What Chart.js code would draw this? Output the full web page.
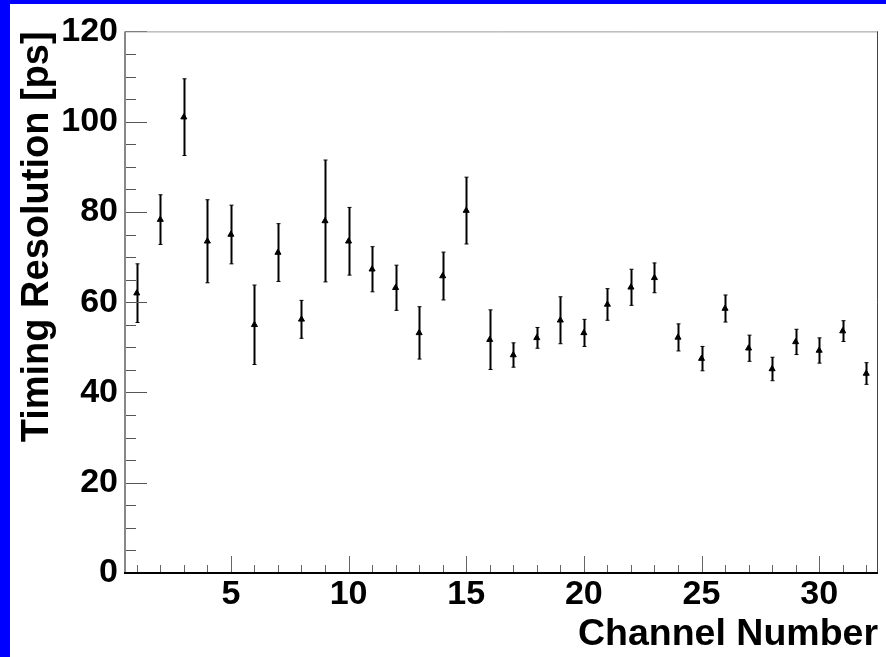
<!DOCTYPE html>
<html>
<head>
<meta charset="utf-8">
<script src="https://cdn.jsdelivr.net/npm/chart.js@4.4.1/dist/chart.umd.min.js"></script>
<style>
  html, body { margin: 0; padding: 0; background: #fff; }
  #wrap { width: 876px; height: 653px; border-left: 10px solid #0000ff; border-top: 4px solid #0000ff; background: #fff; }
  canvas { display: block; }
</style>
</head>
<body>
<div id="wrap"><canvas id="timing-chart" width="876" height="653"></canvas></div>
<script>
var channels = [1, 2, 3, 4, 5, 6, 7, 8, 9, 10, 11, 12, 13, 14, 15, 16,
  17, 18, 19, 20, 21, 22, 23, 24, 25, 26, 27, 28, 29, 30, 31, 32];
var resolution = [62, 78.3, 101, 73.5, 75, 55, 71, 56.2, 78, 73.5, 67.3, 63.2, 53.2, 65.8, 80.3, 51.7,
  48.3, 52.1, 56, 53.2, 59.5, 63.3, 65.4, 52.2, 47.5, 58.6, 49.8, 45.2, 51.2, 49.3, 53.6, 44.2];
var resolutionErr = [6.5, 5.5, 8.5, 9.2, 6.5, 8.8, 6.4, 4.2, 13.5, 7.5, 5, 5, 5.8, 5.3, 7.4, 6.6,
  2.7, 2.3, 5.2, 3, 3.5, 4, 3.3, 3, 2.7, 3, 2.9, 2.6, 2.8, 2.8, 2.3, 2.4];
var xTickLabels = [5, 10, 15, 20, 25, 30];
var yTickLabels = [0, 20, 40, 60, 80, 100, 120];

var fontFamily = '"Liberation Sans", Arial, Helvetica, sans-serif';

var points = channels.map(function (c, i) {
  return { x: c, y: resolution[i] };
});

// error bars under the markers
var errorBars = {
  id: 'errorBars',
  beforeDatasetsDraw: function (chart) {
    var ctx = chart.ctx;
    var xs = chart.scales.x, ys = chart.scales.y;
    ctx.save();
    ctx.strokeStyle = '#000';
    for (var i = 0; i < channels.length; i++) {
      var px = Math.round(xs.getPixelForValue(channels[i])) + 0.5;
      var top = ys.getPixelForValue(resolution[i] + resolutionErr[i]);
      var bot = ys.getPixelForValue(resolution[i] - resolutionErr[i]);
      ctx.lineWidth = 2;
      ctx.beginPath();
      ctx.moveTo(px, top);
      ctx.lineTo(px, bot);
      ctx.stroke();
      ctx.lineWidth = 1;
      ctx.beginPath();
      ctx.moveTo(px - 2, top);
      ctx.lineTo(px + 2, top);
      ctx.moveTo(px - 2, bot);
      ctx.lineTo(px + 2, bot);
      ctx.stroke();
    }
    ctx.restore();
  }
};

// frame and inward tick marks
var frameTicks = {
  id: 'frameTicks',
  afterDraw: function (chart) {
    var ctx = chart.ctx;
    var a = chart.chartArea;
    var xs = chart.scales.x, ys = chart.scales.y;
    ctx.save();
    ctx.lineWidth = 1;
    ctx.strokeStyle = '#555';
    ys.ticks.forEach(function (t) {
      var py = Math.round(ys.getPixelForValue(t.value)) + 0.5;
      var len = yTickLabels.indexOf(t.value) >= 0 ? 22 : 11;
      ctx.beginPath();
      ctx.moveTo(a.left, py);
      ctx.lineTo(a.left + len, py);
      ctx.stroke();
    });
    ctx.strokeStyle = '#666';
    xs.ticks.forEach(function (t) {
      var px = Math.round(xs.getPixelForValue(t.value)) + 0.5;
      var len = xTickLabels.indexOf(t.value) >= 0 ? 17 : 8;
      ctx.beginPath();
      ctx.moveTo(px, a.bottom);
      ctx.lineTo(px, a.bottom - len);
      ctx.stroke();
    });
    // top and right
    ctx.strokeStyle = '#999';
    ctx.beginPath();
    ctx.moveTo(a.left, a.top + 0.5);
    ctx.lineTo(a.right, a.top + 0.5);
    ctx.stroke();
    ctx.strokeStyle = '#444';
    ctx.beginPath();
    ctx.moveTo(a.right - 0.5, a.top);
    ctx.lineTo(a.right - 0.5, a.bottom);
    ctx.stroke();
    // left axis
    ctx.strokeStyle = '#888';
    ctx.lineWidth = 2;
    ctx.beginPath();
    ctx.moveTo(a.left, a.top);
    ctx.lineTo(a.left, a.bottom);
    ctx.stroke();
    // bottom axis
    ctx.strokeStyle = '#000';
    ctx.beginPath();
    ctx.moveTo(a.left - 1, a.bottom);
    ctx.lineTo(a.right, a.bottom);
    ctx.stroke();
    ctx.restore();
  }
};

var chart = new Chart(document.getElementById('timing-chart').getContext('2d'), {
  type: 'scatter',
  data: {
    datasets: [{
      label: 'Timing Resolution',
      data: points,
      pointStyle: 'triangle',
      pointRadius: 3.5,
      pointHoverRadius: 3.5,
      backgroundColor: '#000',
      borderColor: '#000',
      borderWidth: 1
    }]
  },
  plugins: [errorBars, frameTicks],
  options: {
    responsive: false,
    animation: false,
    layout: {
      padding: { top: 18, right: 8, left: 0, bottom: 0 }
    },
    plugins: {
      legend: { display: false },
      tooltip: { enabled: false }
    },
    scales: {
      x: {
        type: 'linear',
        position: 'bottom',
        min: 0.5,
        max: 32.5,
        afterBuildTicks: function (scale) {
          scale.ticks = channels.map(function (c) { return { value: c }; });
        },
        afterFit: function (scale) { scale.height = 84; },
        grid: { drawOnChartArea: false, drawTicks: false },
        border: { display: false },
        ticks: {
          autoSkip: false,
          maxRotation: 0,
          padding: 1,
          color: '#000',
          font: { family: fontFamily, size: 34, weight: 'bold' },
          callback: function (v) {
            return xTickLabels.indexOf(v) >= 0 ? String(v) : '';
          }
        },
        title: {
          display: true,
          text: 'Channel Number',
          align: 'end',
          color: '#000',
          font: { family: fontFamily, size: 37.5, weight: 'bold' },
          padding: { top: 0, bottom: 0 }
        }
      },
      y: {
        min: 0,
        max: 120,
        afterFit: function (scale) { scale.width = 115; },
        grid: { drawOnChartArea: false, drawTicks: false },
        border: { display: false },
        ticks: {
          stepSize: 5,
          autoSkip: false,
          padding: 7,
          color: '#000',
          font: { family: fontFamily, size: 34, weight: 'bold' },
          callback: function (v) {
            return yTickLabels.indexOf(v) >= 0 ? String(v) : '';
          }
        },
        title: {
          display: true,
          text: 'Timing Resolution [ps]',
          align: 'end',
          color: '#000',
          font: { family: fontFamily, size: 38, weight: 'bold' },
          padding: { top: 5, bottom: 0 }
        }
      }
    }
  }
});
</script>
</body>
</html>
